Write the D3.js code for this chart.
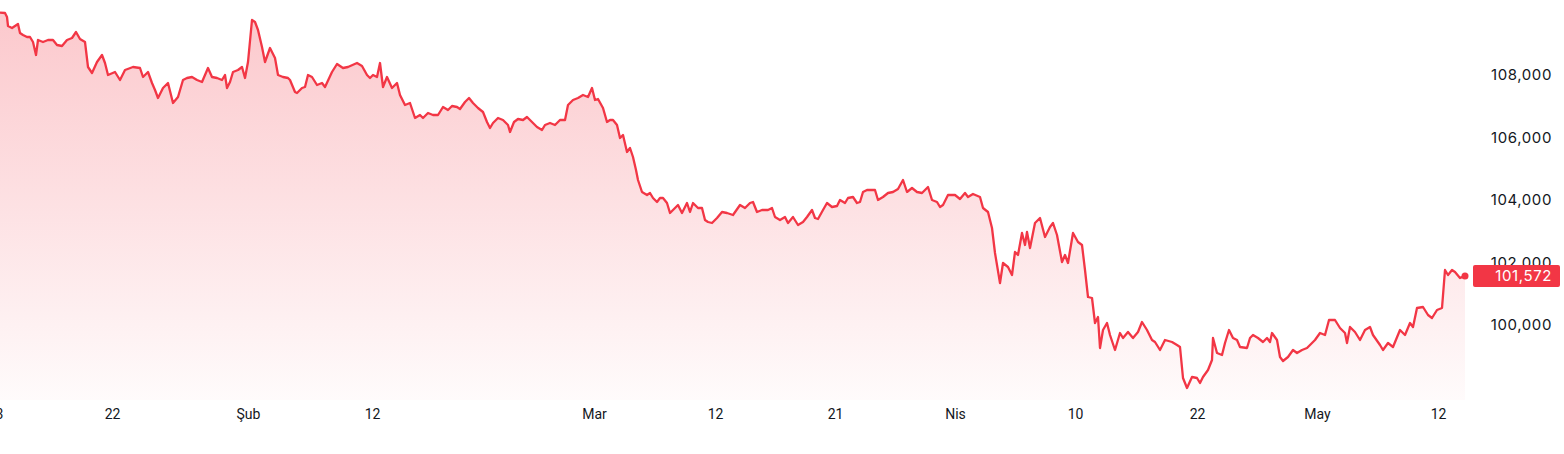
<!DOCTYPE html>
<html>
<head>
<meta charset="utf-8">
<script src="https://cdn.jsdelivr.net/npm/d3@7/dist/d3.min.js"></script>
<style>
  html, body { margin: 0; padding: 0; background: #ffffff; }
  svg { display: block; }
</style>
</head>
<body>
<svg id="chart" width="1564" height="454"></svg>
<script>
// Sample positions (bar index along the compressed time axis) and prices
const pos = [0,5,7,8,12,15,18,20,23,27,30,33,36,38,43,48,53,57,62,67,72,76,80,85,88,92,97,102,105,108,115,120,125,133,140,143,148,152,155,158,163,168,173,178,183,187,192,197,202,208,212,217,222,225,227,230,233,238,242,245,248,252,255,258,262,265,270,275,278,283,288,
290,295,297,302,305,308,312,317,322,325,332,337,343,348,357,362,367,370,373,377,380,383,387,392,397,400,405,410,415,420,423,428,433,438,443,448,452,457,460,465,469,473,478,483,487,490,493,498,503,508,510,514,518,523,527,532,537,542,545,550,555,560,565,568,573,578,583,588,592,595,598,
603,607,610,613,617,620,623,627,630,633,636,638,642,647,650,653,657,660,663,667,670,673,678,682,687,690,693,698,702,705,708,712,717,722,727,733,740,745,750,753,757,762,768,772,775,780,785,788,793,798,803,807,812,815,818,823,827,832,837,840,845,848,853,857,860,863,867,872,875,878,883,888,893,898,903,907,912,917,
922,928,932,937,940,943,948,955,960,965,968,973,980,983,988,992,995,1000,1003,1008,1012,1015,1018,1022,1025,1027,1030,1035,1040,1045,1050,1053,1057,1062,1065,1068,1073,1078,1082,1085,1088,1092,1095,1098,1100,1103,1107,1110,1115,1120,1123,1128,1133,1138,1142,1147,1152,1155,1160,1165,1172,1177,
1180,1183,1187,1192,1197,1200,1203,1208,1212,1213,1217,1222,1225,1229,1233,1237,1240,1247,1250,1253,1258,1263,1267,1270,1272,1277,1280,1283,1288,1293,1297,1302,1307,1310,1315,1320,1325,1329,1335,1340,1345,1347,1350,1355,1360,1365,1370,1373,1380,1383,1388,1393,1400,1405,1410,1413,1417,1423,1428,1432,1437,1442,1445,1448,1452,1455,1460,1465];

const values = [109994,109984,109856,109568,109504,109568,109632,109344,109280,109216,109216,109056,108640,109120,109056,109120,109120,108960,108928,109120,109184,109376,109152,109056,108256,108064,108416,108640,108384,108000,108096,107840,108160,108256,108224,107936,108096,107744,107520,107264,107584,107744,107104,107296,107840,107904,107936,107840,107776,108224,107936,107904,107840,108000,107584,107776,108096,108160,108256,107904,108416,109760,109696,109440,108896,108416,108864,108544,108000,107936,107904,
107840,107456,107424,107584,107616,108000,107936,107680,107744,107616,108096,108352,108224,108256,108384,108288,108000,107904,108000,107936,108384,107616,107936,107584,107744,107360,107040,107104,106624,106720,106624,106784,106720,106720,106976,106880,107008,106976,106912,107136,107264,107104,106944,106816,106496,106304,106464,106624,106560,106400,106176,106496,106592,106560,106656,106496,106336,106240,106400,106464,106400,106560,106560,107040,107200,107264,107360,107296,107584,107200,107232,
106944,106496,106560,106560,106400,105984,106080,105536,105664,105376,104960,104640,104256,104160,104224,104064,103936,104064,104064,103904,103584,103680,103840,103584,103904,103616,103904,103744,103744,103360,103296,103264,103424,103616,103584,103520,103840,103744,103904,103936,103616,103680,103680,103744,103456,103360,103456,103264,103456,103200,103296,103456,103680,103424,103392,103680,103904,103776,103808,104000,103904,104064,104096,103904,103936,104256,104320,104320,104320,104000,104096,104224,104256,104352,104640,104256,104384,104256,
104224,104416,104000,103936,103776,103840,104160,104160,104032,104224,104096,104192,104096,103744,103616,103104,102304,101344,101984,101856,101600,102336,102240,102944,102560,102976,102464,103264,103424,102816,103136,103264,102880,102016,102240,101984,102944,102656,102560,101760,100896,100864,100064,100256,99264,99840,100064,99680,99200,99744,99584,99776,99584,99776,100096,99840,99520,99456,99200,99520,99456,99360,
99296,98304,97984,98336,98304,98144,98336,98560,98880,99584,99104,99040,99424,99840,99584,99520,99296,99264,99584,99680,99584,99456,99584,99456,99744,99520,98976,98848,98976,99200,99104,99200,99264,99360,99520,99744,99680,100160,100160,99904,99744,99424,99936,99776,99520,99840,99936,99680,99360,99200,99424,99296,99840,99680,100064,99936,100544,100576,100320,100224,100480,100544,101760,101600,101760,101696,101504,101572];

const xTickPos = [-5,112,248,372,594,715,835,955,1075,1197,1317,1438];
const xTickLabels = ["13","22","Şub","12","Mar","12","21","Nis","10","22","May","12"];
const yTicks = [100000,102000,104000,106000,108000];
const lastLabel = "101,572";

const data = pos.map((p, i) => ({ p, v: values[i] }));

const W = 1564, H = 454;
const plotRight = 1465;
const plotBottom = 400;
const lineColor = "#f23645";

const svg = d3.select("#chart");

const x = d3.scaleLinear().domain([0, d3.max(pos)]).range([0, plotRight]);
const y = d3.scaleLinear().domain([97600, 110400]).range([plotBottom, 0]);

const defs = svg.append("defs");
const grad = defs.append("linearGradient")
  .attr("id", "fillGrad")
  .attr("gradientUnits", "userSpaceOnUse")
  .attr("x1", 0).attr("y1", 0).attr("x2", 0).attr("y2", plotBottom);
grad.append("stop").attr("offset", "0%").attr("stop-color", lineColor).attr("stop-opacity", 0.28);
grad.append("stop").attr("offset", "55%").attr("stop-color", lineColor).attr("stop-opacity", 0.14);
grad.append("stop").attr("offset", "100%").attr("stop-color", lineColor).attr("stop-opacity", 0.02);

const area = d3.area()
  .x(d => x(d.p))
  .y0(plotBottom)
  .y1(d => y(d.v));

const line = d3.line()
  .x(d => x(d.p))
  .y(d => y(d.v));

svg.append("path")
  .datum(data)
  .attr("d", area)
  .attr("fill", "url(#fillGrad)");

svg.append("path")
  .datum(data)
  .attr("d", line)
  .attr("fill", "none")
  .attr("stroke", lineColor)
  .attr("stroke-width", 2.3)
  .attr("stroke-linejoin", "round");

// Y axis on the right
const yAxis = d3.axisRight(y)
  .tickValues(yTicks)
  .tickSize(0)
  .tickFormat(d3.format(","));
const yg = svg.append("g")
  .attr("transform", `translate(${W - 12},0)`)
  .call(yAxis);
yg.select(".domain").remove();
yg.selectAll("text")
  .attr("x", 0)
  .attr("text-anchor", "end")
  .attr("fill", "#131722")
  .style("font-family", "Inter, 'Noto Sans', sans-serif")
  .style("font-size", "15px")
  .style("letter-spacing", "0.6px");

// X axis labels
const xAxis = d3.axisBottom(x)
  .tickValues(xTickPos)
  .tickSize(0)
  .tickFormat((d, i) => xTickLabels[i]);
const xg = svg.append("g")
  .attr("transform", `translate(0,${plotBottom + 6})`)
  .call(xAxis);
xg.select(".domain").remove();
xg.selectAll("text")
  .attr("fill", "#131722")
  .style("font-family", "Roboto, 'Liberation Sans Narrow', sans-serif")
  .style("font-size", "14px");

// Last point marker and price label
const last = data[data.length - 1];
svg.append("circle")
  .attr("cx", x(last.p))
  .attr("cy", y(last.v))
  .attr("r", 3.5)
  .attr("fill", lineColor);

const lblY = y(last.v);
svg.append("rect")
  .attr("x", 1473)
  .attr("y", lblY - 11)
  .attr("width", 87)
  .attr("height", 22)
  .attr("rx", 2)
  .attr("fill", lineColor);
svg.append("text")
  .attr("x", W - 12)
  .attr("y", lblY)
  .attr("dy", "0.35em")
  .attr("text-anchor", "end")
  .attr("fill", "#ffffff")
  .style("font-family", "Inter, 'Noto Sans', sans-serif")
  .style("font-size", "15px")
  .style("letter-spacing", "0.6px")
  .text(lastLabel);
</script>
</body>
</html>
